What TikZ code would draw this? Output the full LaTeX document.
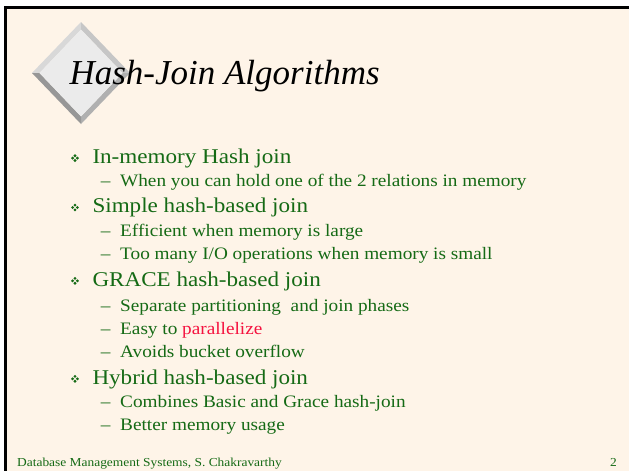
\documentclass[tikz,border=0pt]{standalone}
\usepackage{fontspec}
\setmainfont{Liberation Serif}[FakeStretch=1.1]
\newfontfamily\titlefont{Liberation Serif}
\usetikzlibrary{calc}
\definecolor{paper}{HTML}{FEF4E8}
\definecolor{leafgreen}{HTML}{156A15}
\definecolor{hotred}{HTML}{F5123F}
\definecolor{gemface}{HTML}{EBEBEB}
\definecolor{gemtl}{HTML}{D8D8D8}
\definecolor{gemtr}{HTML}{C6C6C6}
\definecolor{gembr}{HTML}{B0B0B0}
\definecolor{gembl}{HTML}{979797}
\tikzset{
  txt/.style={anchor=base west, inner sep=0pt, text=leafgreen},
  itemtxt/.style={txt, font=\fontsize{21}{25}\selectfont},
  subtxt/.style={txt, font=\fontsize{17.5}{21}\selectfont},
  gem/.pic={
    \foreach \dx/\dy in {0/-2.4, 0/2.4, -2.4/0, 2.4/0}
      \fill[leafgreen] (\dx,\dy-1.55) -- (\dx+1.55,\dy) -- (\dx,\dy+1.55) -- (\dx-1.55,\dy) -- cycle;
  }
}
\begin{document}
\begin{tikzpicture}[x=1pt,y=-1pt]
% page and frame
\useasboundingbox (0,0) rectangle (629,471);
\fill[white] (0,0) rectangle (629,471);
\fill[paper] (5,6) rectangle (629,471);
\fill[black] (3.5,5.5) rectangle (629,8.5);
\fill[black] (3.5,5.5) rectangle (6.5,471);

% bevelled diamond behind the title
\coordinate (dc) at (81,73);
\def\ow{49}\def\oh{51}\def\iw{41.5}\def\ih{43.5}
\fill[gemtl] ($(dc)+(0,-\oh)$) -- ($(dc)+(-\ow,0)$) -- ($(dc)+(-\iw,0)$) -- ($(dc)+(0,-\ih)$) -- cycle;
\fill[gemtr] ($(dc)+(0,-\oh)$) -- ($(dc)+(\ow,0)$) -- ($(dc)+(\iw,0)$) -- ($(dc)+(0,-\ih)$) -- cycle;
\fill[gembr] ($(dc)+(0,\oh)$) -- ($(dc)+(\ow,0)$) -- ($(dc)+(\iw,0)$) -- ($(dc)+(0,\ih)$) -- cycle;
\fill[gembl] ($(dc)+(0,\oh)$) -- ($(dc)+(-\ow,0)$) -- ($(dc)+(-\iw,0)$) -- ($(dc)+(0,\ih)$) -- cycle;
\fill[gemface] ($(dc)+(0,-\ih)$) -- ($(dc)+(\iw,0)$) -- ($(dc)+(0,\ih)$) -- ($(dc)+(-\iw,0)$) -- cycle;

% title
\node[anchor=base west, inner sep=0pt, font=\titlefont\fontsize{35}{40}\selectfont\itshape] (title) at (69.3,84) {Hash-Join Algorithms};

% bullet items
\foreach \y/\t [count=\i] in {163.3/In-memory Hash join, 212.7/Simple hash-based join, 286/GRACE hash-based join, 384/Hybrid hash-based join}{
  \pic at (75,\y-5.2) {gem};
  \node[itemtxt] (item\i) at (92.3,\y) {\t};
}

% sub items
\foreach \y/\t [count=\i] in {186/When you can hold one of the 2 relations in memory,
  236/Efficient when memory is large,
  259.5/{Too many I/O operations when memory is small},
  311.5/Separate partitioning\ \ and join phases,
  334.3/Easy to \textcolor{hotred}{parallelize},
  357.3/Avoids bucket overflow,
  407.3/Combines Basic and Grace hash-join,
  430.7/Better memory usage}{
  \node[subtxt] (dash\i) at (100.7,\y) {--};
  \node[subtxt] (sub\i) at (120,\y) {\t};
}

% footer
\node[txt, font=\fontsize{12.2}{14}\selectfont] (footer) at (17,466.5) {Database Management Systems, S. Chakravarthy};
\node[anchor=base east, inner sep=0pt, text=leafgreen, font=\fontsize{12.2}{14}\selectfont] (pageno) at (617,466.5) {2};
\end{tikzpicture}
\end{document}
